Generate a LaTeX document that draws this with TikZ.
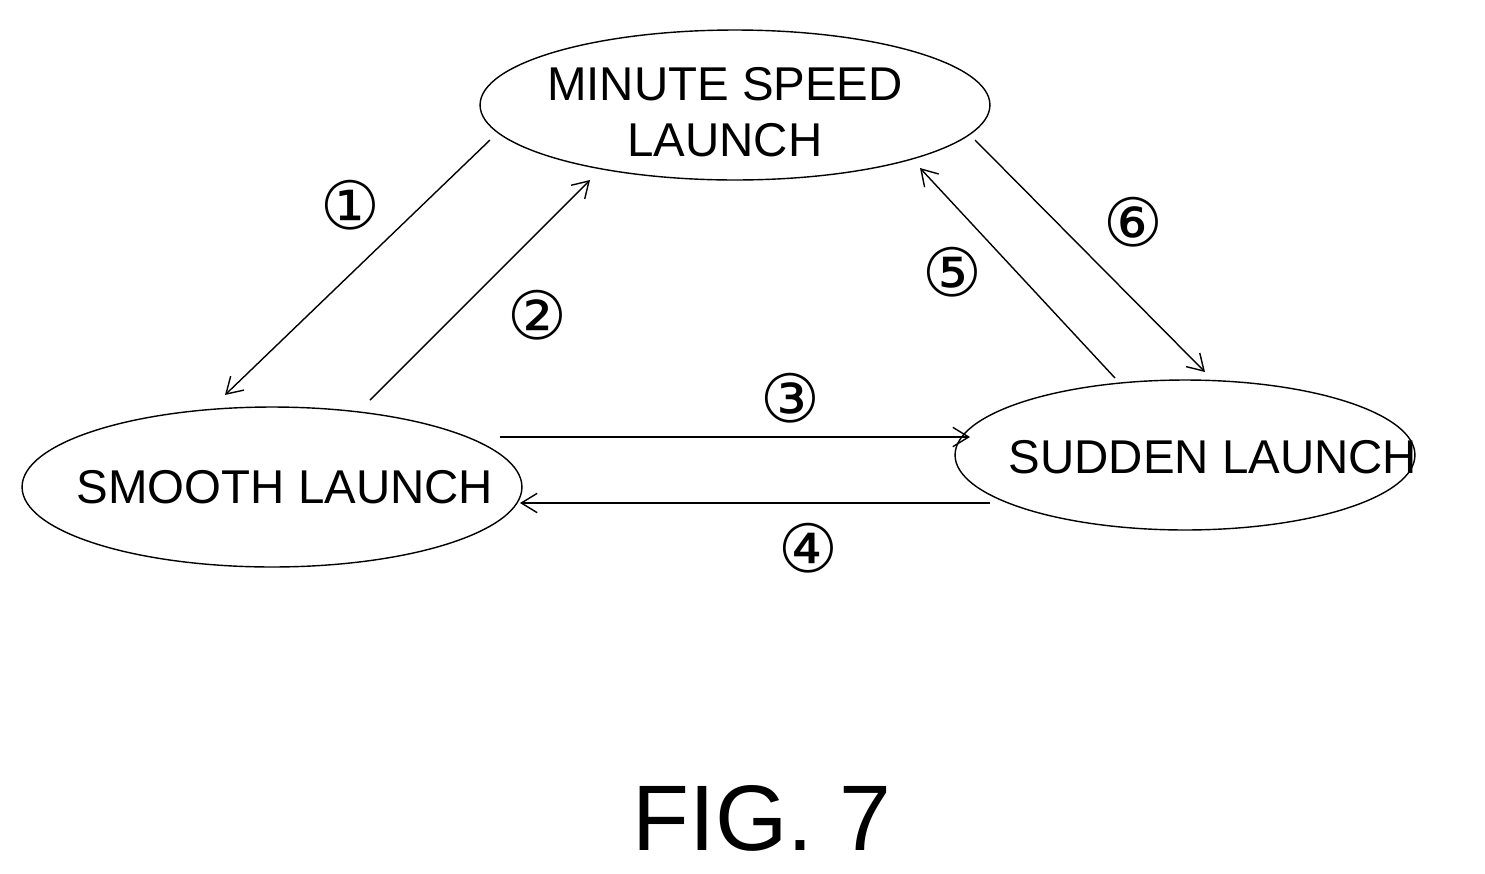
\documentclass[tikz,border=0pt]{standalone}
\usepackage{fontspec}
\setmainfont{Liberation Sans}
\newfontfamily\symfont{DejaVu Sans}
\usetikzlibrary{shapes.geometric,arrows.meta}
\begin{document}
\begin{tikzpicture}[x=0.02cm, y=-0.02cm,
  state/.style={draw, ellipse, line width=0.8pt, inner sep=0pt},
  txt/.style={font=\fontsize{27}{32}\selectfont, align=center},
  num/.style={font=\symfont\fontsize{38}{40}\selectfont},
  n/.style={-{Straight Barb[length=9pt, width=11pt]}, line width=0.8pt}]
  \useasboundingbox (0,0) rectangle (1485,873);
  % nodes
  \node[state, minimum width=10.2cm, minimum height=3cm] (M) at (735,105) {};
  \node[txt] (Mt) at (725,112) {MINUTE SPEED\\LAUNCH};
  \node[state, minimum width=10cm, minimum height=3.2cm] (S) at (272,487) {};
  \node[txt] (St) at (285,487) {SMOOTH LAUNCH};
  \node[state, minimum width=9.2cm, minimum height=3cm] (D) at (1185,455) {};
  \node[txt] (Dt) at (1213,457) {SUDDEN LAUNCH};
  % end points
  \coordinate (a1) at (490,140); \coordinate (b1) at (225,395);
  \coordinate (a2) at (370,400); \coordinate (b2) at (590,180);
  \coordinate (a3) at (500,437); \coordinate (b3) at (970,437);
  \coordinate (a4) at (990,503); \coordinate (b4) at (520,503);
  \coordinate (a5) at (1115,378); \coordinate (b5) at (920,168);
  \coordinate (a6) at (975,140); \coordinate (b6) at (1205,372);
  % edges
  \draw[n] (a1) -- (b1);
  \draw[n] (a2) -- (b2);
  \draw[n] (a3) -- (b3);
  \draw[n] (a4) -- (b4);
  \draw[n] (a5) -- (b5);
  \draw[n] (a6) -- (b6);
  % labels
  \node[num] (l1) at (350,205) {①};
  \node[num] (l2) at (537,315) {②};
  \node[num] (l3) at (790,398) {③};
  \node[num] (l4) at (808,548) {④};
  \node[num] (l5) at (952,272) {⑤};
  \node[num] (l6) at (1133,222) {⑥};
  \node[font=\fontsize{53}{56}\selectfont] (fig) at (762,818) {FIG. 7};
\end{tikzpicture}
\end{document}
